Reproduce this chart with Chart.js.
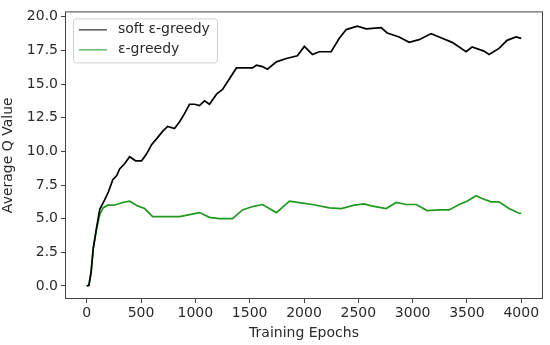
<!DOCTYPE html>
<html>
<head>
<meta charset="utf-8">
<script src="https://cdn.jsdelivr.net/npm/chart.js@4"></script>
<style>
  body { margin: 0; background: #fff; }
  #wrap { width: 550px; height: 345px; }
</style>
</head>
<body>
<div id="wrap"><canvas id="chart"></canvas></div>
<script>
const xTicks = [0, 500, 1000, 1500, 2000, 2500, 3000, 3500, 4000];
const yTicks = [0, 2.5, 5, 7.5, 10, 12.5, 15, 17.5, 20];

const softLabel = 'soft ε-greedy';
const softEpochs = [0, 20, 40, 60, 90, 120, 165, 200, 240, 276, 303, 350, 395, 450, 505, 550, 597, 650, 700, 745,
    808, 855, 900, 946, 993, 1038, 1084, 1130, 1195, 1250, 1314, 1378, 1440, 1526, 1562, 1618, 1663, 1746, 1838, 1939,
    2003, 2077, 2141, 2250, 2325, 2389, 2490, 2573, 2711, 2766, 2876, 2968, 3060, 3170, 3244, 3364, 3492, 3547, 3657,
    3704, 3795, 3869, 3952, 4000];
const softQ = [0, 0.05, 1.0, 2.8, 4.3, 5.7, 6.4, 7.0, 7.9, 8.2, 8.7, 9.1, 9.6, 9.3, 9.3, 9.8, 10.5, 11.0, 11.5, 11.85,
    11.7, 12.2, 12.8, 13.5, 13.5, 13.4, 13.75, 13.5, 14.25, 14.6, 15.4, 16.2, 16.2, 16.2, 16.4, 16.3, 16.1, 16.65, 16.9, 17.1,
    17.8, 17.2, 17.4, 17.4, 18.4, 19.05, 19.3, 19.1, 19.2, 18.8, 18.5, 18.1, 18.3, 18.75, 18.5, 18.1, 17.4, 17.75, 17.45,
    17.2, 17.65, 18.25, 18.5, 18.4];

const greedyLabel = 'ε-greedy';
const greedyEpochs = [0, 20, 40, 60, 90, 120, 150, 193, 250, 331, 395, 469, 533, 607, 735, 855, 947, 1038, 1130, 1222,
    1342, 1434, 1526, 1618, 1746, 1866, 1985, 2077, 2233, 2343, 2463, 2555, 2619, 2757, 2849, 2940, 3032, 3134, 3244,
    3336, 3428, 3501, 3584, 3639, 3722, 3795, 3887, 3979, 4000];
const greedyQ = [0, 0.05, 1.0, 2.8, 4.2, 5.3, 5.8, 6.0, 6.0, 6.2, 6.3, 5.95, 5.75, 5.15, 5.15, 5.15, 5.3, 5.45, 5.1, 5.0,
    5.0, 5.65, 5.9, 6.05, 5.45, 6.3, 6.15, 6.05, 5.8, 5.75, 6.0, 6.1, 5.95, 5.75, 6.2, 6.05, 6.05, 5.6, 5.65,
    5.65, 6.05, 6.3, 6.7, 6.5, 6.25, 6.25, 5.75, 5.4, 5.4];

const textColor = '#2a2a2a';
const axisColor = '#444';
const fontFamily = 'DejaVu Sans';
const fontSize = 14;

function toPoints(xs, ys) {
    return xs.map((x, i) => ({ x: x, y: ys[i] }));
}

// full box round the plot, like matplotlib spines
const frame = {
    id: 'frame',
    afterDraw(chart) {
        const { ctx, chartArea: a } = chart;
        ctx.save();
        ctx.strokeStyle = axisColor;
        ctx.lineWidth = 1;
        ctx.strokeRect(a.left + 0.5, a.top + 0.5, a.right - a.left - 1, a.bottom - a.top - 1);
        ctx.restore();
    }
};

// legend inside upper left corner
const innerLegend = {
    id: 'innerLegend',
    afterDraw(chart) {
        const { ctx, chartArea: a } = chart;
        const x0 = a.left + 8, y0 = a.top + 7, w = 144, h = 44;
        ctx.save();
        ctx.fillStyle = 'rgba(255,255,255,0.8)';
        ctx.strokeStyle = '#d0d0d0';
        ctx.lineWidth = 1;
        ctx.beginPath();
        ctx.roundRect(x0 + 0.5, y0 + 0.5, w, h, 3);
        ctx.fill();
        ctx.stroke();
        ctx.font = fontSize + 'px ' + fontFamily;
        ctx.textBaseline = 'middle';
        chart.data.datasets.forEach((ds, i) => {
            const y = y0 + 11 + i * 20;
            ctx.strokeStyle = ds.borderColor;
            ctx.lineWidth = 1;
            ctx.beginPath();
            ctx.moveTo(x0 + 6, y + 0.5);
            ctx.lineTo(x0 + 34, y + 0.5);
            ctx.stroke();
            ctx.fillStyle = textColor;
            ctx.fillText(ds.label, x0 + 45, y);
        });
        ctx.restore();
    }
};

new Chart(document.getElementById('chart'), {
    type: 'line',
    data: {
        datasets: [
            {
                label: softLabel,
                data: toPoints(softEpochs, softQ),
                borderColor: '#000000',
                borderWidth: 1.7,
                pointRadius: 0,
                tension: 0,
                fill: false
            },
            {
                label: greedyLabel,
                data: toPoints(greedyEpochs, greedyQ),
                borderColor: '#1f9a1f',
                borderWidth: 1.7,
                pointRadius: 0,
                tension: 0,
                fill: false
            }
        ]
    },
    options: {
        responsive: true,
        maintainAspectRatio: false,
        animation: false,
        layout: { padding: { top: 5, right: 7, left: 0, bottom: 0 } },
        plugins: {
            legend: { display: false },
            tooltip: { enabled: false }
        },
        scales: {
            x: {
                type: 'linear',
                min: -200,
                max: 4200,
                afterFit(scale) { scale.height = 46; },
                afterBuildTicks(scale) { scale.ticks = xTicks.map(v => ({ value: v })); },
                grid: { display: true, drawOnChartArea: false, drawTicks: true, tickLength: 4, tickColor: axisColor },
                border: { display: false },
                ticks: {
                    color: textColor,
                    padding: 2,
                    maxRotation: 0,
                    font: { family: fontFamily, size: fontSize },
                    callback: v => String(v)
                },
                title: {
                    display: true,
                    text: 'Training Epochs',
                    color: textColor,
                    padding: { top: 0, bottom: 3 },
                    font: { family: fontFamily, size: fontSize }
                }
            },
            y: {
                type: 'linear',
                min: -0.97,
                max: 20.4,
                afterFit(scale) { scale.width = 65; },
                afterBuildTicks(scale) { scale.ticks = yTicks.map(v => ({ value: v })); },
                grid: { display: true, drawOnChartArea: false, drawTicks: true, tickLength: 4, tickColor: axisColor },
                border: { display: false },
                ticks: {
                    color: textColor,
                    padding: 3,
                    font: { family: fontFamily, size: fontSize },
                    callback: v => v.toFixed(1)
                },
                title: {
                    display: true,
                    text: 'Average Q Value',
                    color: textColor,
                    padding: { top: 0, bottom: 0 },
                    font: { family: fontFamily, size: fontSize }
                }
            }
        }
    },
    plugins: [frame, innerLegend]
});
</script>
</body>
</html>
